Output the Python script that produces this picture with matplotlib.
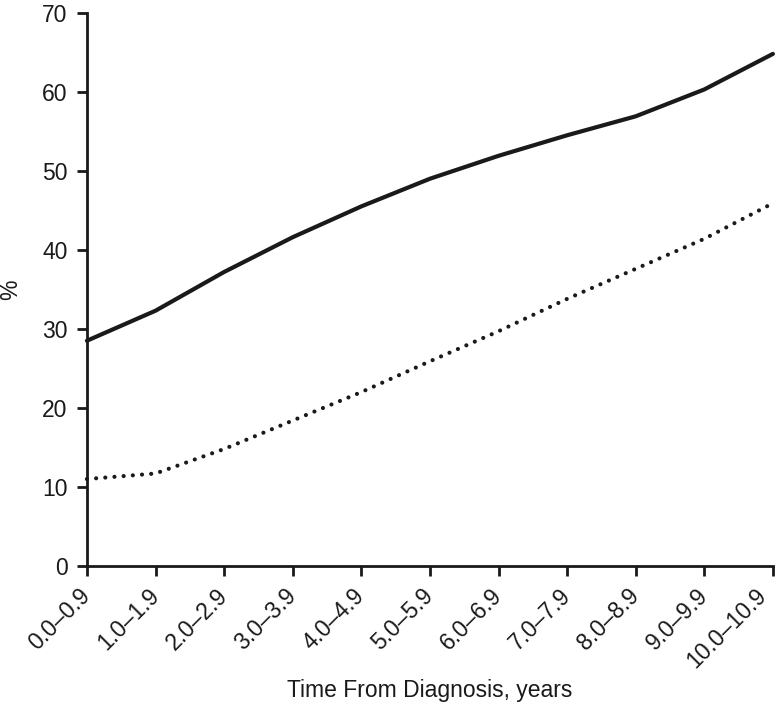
import numpy as np
import matplotlib
matplotlib.use("Agg")
import matplotlib.pyplot as plt
from matplotlib.transforms import ScaledTranslation

plt.rcParams['font.family'] = ['Liberation Sans', 'DejaVu Sans']

periods = ["0.0\u20130.9", "1.0\u20131.9", "2.0\u20132.9", "3.0\u20133.9", "4.0\u20134.9",
           "5.0\u20135.9", "6.0\u20136.9", "7.0\u20137.9", "8.0\u20138.9", "9.0\u20139.9",
           "10.0\u201310.9"]
solid_vals = [28.5, 32.3, 37.2, 41.6, 45.5, 49.0, 51.9, 54.5, 56.9, 60.3, 64.8]
dotted_vals = [11.0, 11.7, 14.8, 18.4, 22.0, 25.9, 29.7, 33.8, 37.6, 41.4, 45.9]

ink = '#1a1a1a'
fs = 16.5

fig = plt.figure(figsize=(7.76, 7.11), dpi=100)
ax = fig.add_axes([0.112, 0.204, 0.884, 0.778])

x = np.arange(len(periods))
ax.plot(x, solid_vals, color=ink, lw=3.0, solid_capstyle='round', clip_on=False)
ax.plot(x, dotted_vals, color=ink, lw=3.0, linestyle=(0, (0.01, 2.2)),
        dash_capstyle='round', clip_on=False)

ax.set_xlim(0, len(periods) - 1)
ax.set_ylim(0, 70)
ax.set_yticks(range(0, 71, 10))
ax.set_xticks(x)
ax.set_xticklabels(periods, rotation=45, ha='right', va='center', rotation_mode='anchor')

for s in ['top', 'right']:
    ax.spines[s].set_visible(False)
for s in ['left', 'bottom']:
    ax.spines[s].set_linewidth(2.0)
    ax.spines[s].set_color(ink)
ax.tick_params(axis='both', direction='out', length=7, width=2.0, color=ink,
               labelsize=fs, labelcolor=ink)
ax.tick_params(axis='y', pad=7)
ax.tick_params(axis='x', pad=12)

# keep the last label inside the figure
last = ax.get_xticklabels()[-1]
last.set_transform(last.get_transform() + ScaledTranslation(-7 / 72, 0, fig.dpi_scale_trans))

ax.set_xlabel("Time From Diagnosis, years", fontsize=fs, color=ink, va='center')
ax.xaxis.set_label_coords(430 / 776, 1 - 690 / 711, transform=fig.transFigure)
ax.set_ylabel("%", fontsize=fs, color=ink, labelpad=14)

fig.savefig("out.png", dpi=100)
